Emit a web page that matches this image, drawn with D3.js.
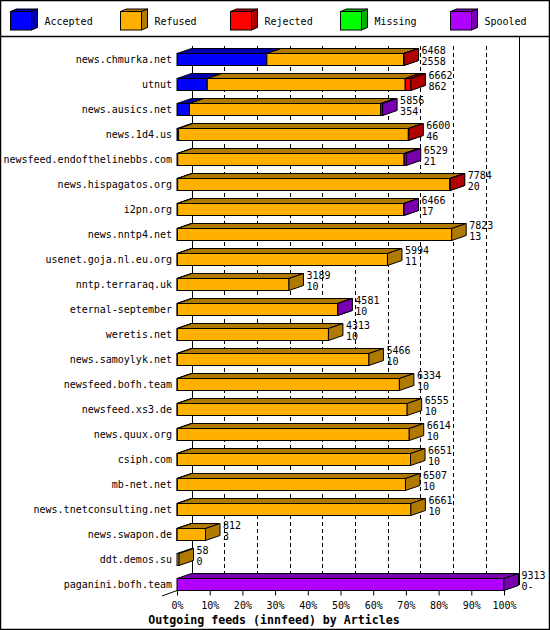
<!DOCTYPE html>
<html><head><meta charset="utf-8">
<script src="https://cdn.jsdelivr.net/npm/d3@7"></script>
<style>
html,body{margin:0;padding:0;background:#fff;}
svg text{font-family:"DejaVu Sans Mono",monospace;font-size:10px;fill:#000;}
</style></head><body>
<svg id="chart" width="550" height="630"></svg>
<script>
const categories = ["news.chmurka.net","utnut","news.ausics.net","news.1d4.us","newsfeed.endofthelinebbs.com","news.hispagatos.org","i2pn.org","news.nntp4.net","usenet.goja.nl.eu.org","nntp.terraraq.uk","eternal-september","weretis.net","news.samoylyk.net","newsfeed.bofh.team","newsfeed.xs3.de","news.quux.org","csiph.com","mb-net.net","news.tnetconsulting.net","news.swapon.de","ddt.demos.su","paganini.bofh.team"];
const accepted = [2558,862,354,46,21,20,17,13,11,10,10,10,10,10,10,10,10,10,10,3,0,0];
const refused  = [3895,5640,5452,6544,6448,7754,6439,7810,5983,3179,4561,4303,5456,6324,6545,6604,6641,6497,6651,809,58,0];
const rejected = [15,160,0,10,0,10,0,0,0,0,0,0,0,0,0,0,0,0,0,0,0,0];
const missing  = [0,0,0,0,0,0,0,0,0,0,0,0,0,0,0,0,0,0,0,0,0,0];
const spooled  = [0,0,50,0,60,0,10,0,0,0,10,0,0,0,0,0,0,0,0,0,0,9313];
const seriesNames = ["Accepted","Refused","Rejected","Missing","Spooled"];
const frontColors = ["#0000ff","#ffb000","#ff0000","#00ff00","#b000ff"];
const darkColors  = ["#0000b0","#b07900","#b00000","#00b000","#7900b0"];
const tickLabels = ["0%","10%","20%","30%","40%","50%","60%","70%","80%","90%","100%"];
const title = "Outgoing feeds (innfeed) by Articles";

const series = [accepted, refused, rejected, missing, spooled];
const totals = categories.map((c,i)=>series.reduce((s,a)=>s+a[i],0));
const maxTotal = d3.max(totals);

const svg = d3.select("#chart");
const DX = 14.5, DY = 5, H = 12;
const x = d3.scaleLinear().domain([0, maxTotal]).range([177, 504]);
const xp = d3.scaleLinear().domain([0, 100]).range([177, 504]);
const y = d3.scalePoint().domain(categories).range([59, 584]);
const plotTop = 46, plotBottom = 585;

// outer frame + legend separator
svg.append("rect").attr("x",0.5).attr("y",0.5).attr("width",549).attr("height",629)
  .attr("fill","none").attr("stroke","#000").attr("stroke-width",1.5);
svg.append("line").attr("x1",0).attr("x2",550).attr("y1",36.5).attr("y2",36.5)
  .attr("stroke","#000").attr("stroke-width",1.5);

// legend
const lg = svg.append("g");
seriesNames.forEach((n,i)=>{
  const bx = 10.5 + 110*i, by = 11.5, bw = 21, bh = 18.5, dx = 6, dy = 2.5;
  const g = lg.append("g");
  g.append("polygon").attr("points",[[bx,by],[bx+bw,by],[bx+bw+dx,by-dy],[bx+dx,by-dy]].join(" "))
    .attr("fill",darkColors[i]).attr("stroke","#000");
  g.append("polygon").attr("points",[[bx+bw,by],[bx+bw+dx,by-dy],[bx+bw+dx,by+bh-dy],[bx+bw,by+bh]].join(" "))
    .attr("fill",darkColors[i]).attr("stroke","#000");
  g.append("rect").attr("x",bx).attr("y",by).attr("width",bw).attr("height",bh)
    .attr("fill",frontColors[i]).attr("stroke","#000");
  g.append("text").attr("x",bx+34).attr("y",21).attr("dominant-baseline","central").text(n);
});

// back plane grid (shifted by depth)
const grid = svg.append("g");
tickLabels.forEach((t,k)=>{
  const gx = Math.round(xp(k*10)+DX)+0.5;
  grid.append("line").attr("x1",gx).attr("x2",gx)
    .attr("y1", k===10 ? 37 : plotTop).attr("y2", plotBottom)
    .attr("stroke","#000").attr("stroke-width",1)
    .attr("stroke-dasharray", (k===0||k===10) ? null : "4,3");
});
// floor diagonal
svg.append("line").attr("x1",162).attr("y1",596).attr("x2",177).attr("y2",590.5)
  .attr("stroke","#000");

// bars
const bars = svg.append("g");
categories.forEach((c,i)=>{
  const cy = y(c);
  const yt = Math.round(cy - H/2)+0.5, yb = yt + H;
  let cum = 0;
  series.forEach((arr,s)=>{
    const v = arr[i];
    if (v <= 0) return;
    const x0 = x(cum), x1 = x(cum+v);
    cum += v;
    const g = bars.append("g");
    g.append("polygon").attr("points",[[x0,yt],[x1,yt],[x1+DX,yt-DY],[x0+DX,yt-DY]].join(" "))
      .attr("fill",darkColors[s]).attr("stroke","#000");
    g.append("rect").attr("x",x0).attr("y",yt).attr("width",Math.max(0,x1-x0)).attr("height",H)
      .attr("fill",frontColors[s]).attr("stroke","#000");
    g.append("polygon").attr("points",[[x1,yt],[x1+DX,yt-DY],[x1+DX,yb-DY],[x1,yb]].join(" "))
      .attr("fill",darkColors[s]).attr("stroke","#000");
  });
  const lx = x(totals[i]) + DX + 3;
  svg.append("text").attr("x",lx).attr("y",cy-9).attr("dominant-baseline","central").text(totals[i]);
  svg.append("text").attr("x",lx).attr("y",cy+2).attr("dominant-baseline","central")
    .text(accepted[i] + (i===categories.length-1 ? "-" : ""));
});

// category labels
const ya = d3.axisLeft(y).tickSize(0).tickPadding(0);
const yg = svg.append("g").attr("transform","translate(172,0)").call(ya);
yg.select(".domain").remove();
yg.selectAll("text").attr("font-family","DejaVu Sans Mono").attr("font-size",10).attr("dy",null)
  .attr("dominant-baseline","central").attr("fill","#000");

// x axis
const xa = d3.axisBottom(xp).tickValues(d3.range(0,101,10)).tickSize(5).tickPadding(6)
  .tickFormat((d,k)=>tickLabels[k]);
const xg = svg.append("g").attr("transform","translate(0,590.5)").call(xa);
xg.select(".domain").attr("stroke","#000").attr("d","M177,0H504");
xg.selectAll("line").attr("stroke","#000");
xg.selectAll("text").attr("font-family","DejaVu Sans Mono").attr("font-size",10).attr("fill","#000");

svg.append("text").attr("x",274).attr("y",619.5).attr("text-anchor","middle")
  .attr("dominant-baseline","central")
  .style("font-weight","bold").style("font-size","11.6px").text(title);
</script></body></html>
